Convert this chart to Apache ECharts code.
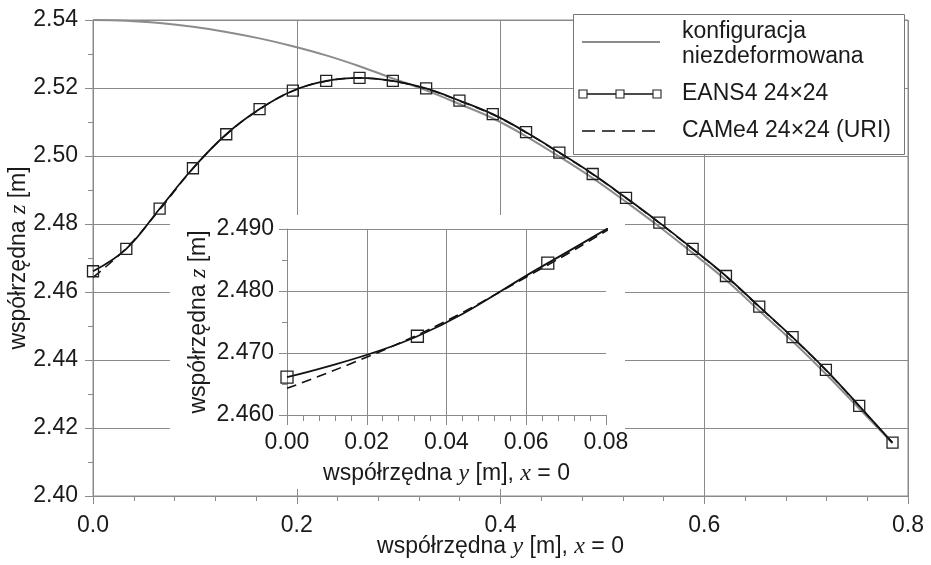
<!DOCTYPE html>
<html>
<head>
<meta charset="utf-8">
<script src="https://cdn.jsdelivr.net/npm/echarts@6/dist/echarts.min.js"></script>
<style>
  html, body { margin: 0; padding: 0; background: #fff; }
  #chart { width: 931px; height: 565px; }
</style>
</head>
<body>
<div id="chart"></div>
<script>
// Node coordinate y [m] along the meridian, x = 0
const nodeY = [0.0000, 0.0327, 0.0654, 0.0981, 0.1308, 0.1635, 0.1962, 0.2289, 0.2616,
  0.2943, 0.3270, 0.3597, 0.3924, 0.4251, 0.4578, 0.4905, 0.5232, 0.5559, 0.5886,
  0.6213, 0.6540, 0.6867, 0.7194, 0.7521, 0.7848];

// Undeformed configuration, z [m]
const undeformedZ = [2.5400, 2.5398, 2.5391, 2.5380, 2.5365, 2.5346, 2.5323, 2.5296, 2.5264,
  2.5228, 2.5193, 2.5153, 2.5111, 2.5058, 2.4998, 2.4935, 2.4865, 2.4792, 2.4715,
  2.4635, 2.4545, 2.4455, 2.4359, 2.4257, 2.4155];

// EANS4 24x24, z [m]
const eansZ = [2.4661, 2.4727, 2.4845, 2.4964, 2.5064, 2.5138, 2.5192, 2.5221, 2.5230,
  2.5221, 2.5199, 2.5163, 2.5123, 2.5070, 2.5010, 2.4947, 2.4877, 2.4804, 2.4727,
  2.4647, 2.4557, 2.4467, 2.4371, 2.4265, 2.4157];

// CAMe4 24x24 (URI), z [m]
const cameZ = [2.4643, 2.4729, 2.4842, 2.4963, 2.5063, 2.5137, 2.5191, 2.5220, 2.5229,
  2.5220, 2.5198, 2.5162, 2.5122, 2.5069, 2.5009, 2.4946, 2.4876, 2.4803, 2.4726,
  2.4646, 2.4556, 2.4466, 2.4370, 2.4264, 2.4156];

const legendNames = ['konfiguracja', 'niezdeformowana', 'EANS4 24\u00d724', 'CAMe4 24\u00d724 (URI)'];

const pairs = (xs, ys) => xs.map((x, i) => [x, ys[i]]);

const SANS = '"Liberation Sans", Arial, sans-serif';
const SERIF = '"Liberation Serif", "Times New Roman", serif';
const TXT = '#1a1a1a';
const GRID = '#8a8a8a';
const FS = 23;

const richName = {
  t: { fontSize: FS, fontFamily: SANS, color: TXT },
  v: { fontSize: FS + 1, fontFamily: SERIF, fontStyle: 'italic', color: TXT }
};
const xName = '{t|wsp\u00f3\u0142rz\u0119dna }{v|y}{t| [m], }{v|x}{t| = 0}';
const zName = '{t|wsp\u00f3\u0142rz\u0119dna }{v|z}{t| [m]}';

function valueAxis(o) {
  return Object.assign({
    type: 'value',
    axisLine: { show: true, onZero: false, lineStyle: { color: GRID, width: 1 } },
    axisTick: { show: true, length: 8, lineStyle: { color: GRID } },
    minorTick: { show: true, length: 5, lineStyle: { color: GRID } },
    splitLine: { show: true, lineStyle: { color: GRID, width: 1 } },
    minorSplitLine: { show: false },
    axisLabel: { fontSize: FS, fontFamily: SANS, color: TXT },
    nameLocation: 'middle',
    nameMoveOverlap: false,
    nameTextStyle: { rich: richName }
  }, o);
}

const chart = echarts.init(document.getElementById('chart'), null, { renderer: 'canvas' });

chart.setOption({
  animation: false,
  backgroundColor: '#ffffff',
  textStyle: { fontFamily: SANS },
  grid: [
    { left: 93, right: 23, top: 20, bottom: 69, show: true, borderColor: GRID, borderWidth: 1,
      containLabel: false, outerBoundsMode: 'none' },
    { left: 287, top: 229, width: 319, height: 186, z: 20,
      containLabel: false, outerBoundsMode: 'none' }
  ],
  xAxis: [
    valueAxis({
      gridIndex: 0, min: 0, max: 0.8, interval: 0.2,
      minorTick: { show: true, splitNumber: 5, length: 5, lineStyle: { color: GRID } },
      axisLabel: { fontSize: FS, fontFamily: SANS, color: TXT, margin: 18, formatter: v => v.toFixed(1) },
      name: xName, nameGap: 39
    }),
    valueAxis({
      gridIndex: 1, min: 0, max: 0.08, interval: 0.02, z: 20,
      axisTick: { show: true, length: 10, lineStyle: { color: GRID } },
      minorTick: { show: true, splitNumber: 5, length: 6, lineStyle: { color: GRID } },
      axisLabel: { fontSize: FS, fontFamily: SANS, color: TXT, margin: 16, formatter: v => v.toFixed(2) },
      splitLine: { show: true, showMaxLine: false, lineStyle: { color: GRID, width: 1 } },
      name: xName, nameGap: 47
    })
  ],
  yAxis: [
    valueAxis({
      gridIndex: 0, min: 2.40, max: 2.54, interval: 0.02,
      minorTick: { show: true, splitNumber: 2, length: 5, lineStyle: { color: GRID } },
      axisLabel: { fontSize: FS, fontFamily: SANS, color: TXT, margin: 15, formatter: v => v.toFixed(2) },
      name: zName, nameRotate: 90, nameGap: 62
    }),
    valueAxis({
      gridIndex: 1, min: 2.46, max: 2.49, interval: 0.01, z: 20,
      axisTick: { show: true, length: 8, lineStyle: { color: GRID } },
      minorTick: { show: true, splitNumber: 2, length: 5, lineStyle: { color: GRID } },
      axisLabel: { fontSize: FS, fontFamily: SANS, color: TXT, margin: 13, formatter: v => v.toFixed(3) },
      name: zName, nameRotate: 90, nameGap: 76
    })
  ],
  series: [
    {
      name: 'undeformed', type: 'line', xAxisIndex: 0, yAxisIndex: 0,
      data: pairs(nodeY, undeformedZ), smooth: 0.4, showSymbol: false, symbol: 'none',
      lineStyle: { color: '#8c8c8c', width: 2 }, z: 2
    },
    {
      name: 'came', type: 'line', xAxisIndex: 0, yAxisIndex: 0,
      data: pairs(nodeY, cameZ), smooth: 0.4, symbol: 'none',
      lineStyle: { color: '#111', width: 1.5, type: [10, 6] }, z: 3
    },
    {
      name: 'eans', type: 'line', xAxisIndex: 0, yAxisIndex: 0,
      data: pairs(nodeY, eansZ), smooth: 0.4,
      symbol: 'rect', symbolSize: 11,
      itemStyle: { color: 'rgba(255,255,255,0)', borderColor: '#222', borderWidth: 1.3 },
      lineStyle: { color: '#111', width: 1.8 }, z: 4
    },
    {
      name: 'came-inset', type: 'line', xAxisIndex: 1, yAxisIndex: 1, clip: true,
      data: pairs(nodeY, cameZ), smooth: 0.4, symbol: 'none',
      lineStyle: { color: '#111', width: 1.6, type: [10, 6] }, z: 30
    },
    {
      name: 'eans-inset', type: 'line', xAxisIndex: 1, yAxisIndex: 1, clip: true,
      data: pairs(nodeY, eansZ), smooth: 0.4,
      symbol: 'rect', symbolSize: 12,
      itemStyle: { color: 'rgba(255,255,255,0)', borderColor: '#222', borderWidth: 1.3 },
      lineStyle: { color: '#111', width: 1.8 }, z: 31
    }
  ],
  graphic: [
    // white panel under the magnified view
    { type: 'rect', z: 10, silent: true,
      shape: { x: 170, y: 215, width: 455, height: 274 },
      style: { fill: '#ffffff' } },
    // legend
    { type: 'group', z: 50, silent: true, children: [
      { type: 'rect', z: 50, shape: { x: 573.5, y: 14.5, width: 331, height: 140 },
        style: { fill: '#ffffff', stroke: '#777', lineWidth: 1 } },
      { type: 'line', z: 51, shape: { x1: 582, y1: 42, x2: 660, y2: 42 },
        style: { stroke: '#8c8c8c', lineWidth: 2 } },
      { type: 'text', z: 51, x: 682, y: 32,
        style: { text: legendNames[0], font: FS + 'px ' + SANS, fill: TXT, verticalAlign: 'middle' } },
      { type: 'text', z: 51, x: 682, y: 57,
        style: { text: legendNames[1], font: FS + 'px ' + SANS, fill: TXT, verticalAlign: 'middle' } },
      { type: 'line', z: 51, shape: { x1: 583, y1: 94, x2: 657, y2: 94 },
        style: { stroke: '#111', lineWidth: 1.5 } },
      { type: 'rect', z: 52, shape: { x: 579, y: 90, width: 8, height: 8 },
        style: { fill: '#fff', stroke: '#222', lineWidth: 1.1 } },
      { type: 'rect', z: 52, shape: { x: 616, y: 90, width: 8, height: 8 },
        style: { fill: '#fff', stroke: '#222', lineWidth: 1.1 } },
      { type: 'rect', z: 52, shape: { x: 653, y: 90, width: 8, height: 8 },
        style: { fill: '#fff', stroke: '#222', lineWidth: 1.1 } },
      { type: 'text', z: 51, x: 682, y: 94,
        style: { text: legendNames[2], font: FS + 'px ' + SANS, fill: TXT, verticalAlign: 'middle' } },
      { type: 'line', z: 51, shape: { x1: 582, y1: 131, x2: 660, y2: 131 },
        style: { stroke: '#111', lineWidth: 1.6, lineDash: [13, 7] } },
      { type: 'text', z: 51, x: 682, y: 131,
        style: { text: legendNames[3], font: FS + 'px ' + SANS, fill: TXT, verticalAlign: 'middle' } }
    ] }
  ]
});
</script>
</body>
</html>
